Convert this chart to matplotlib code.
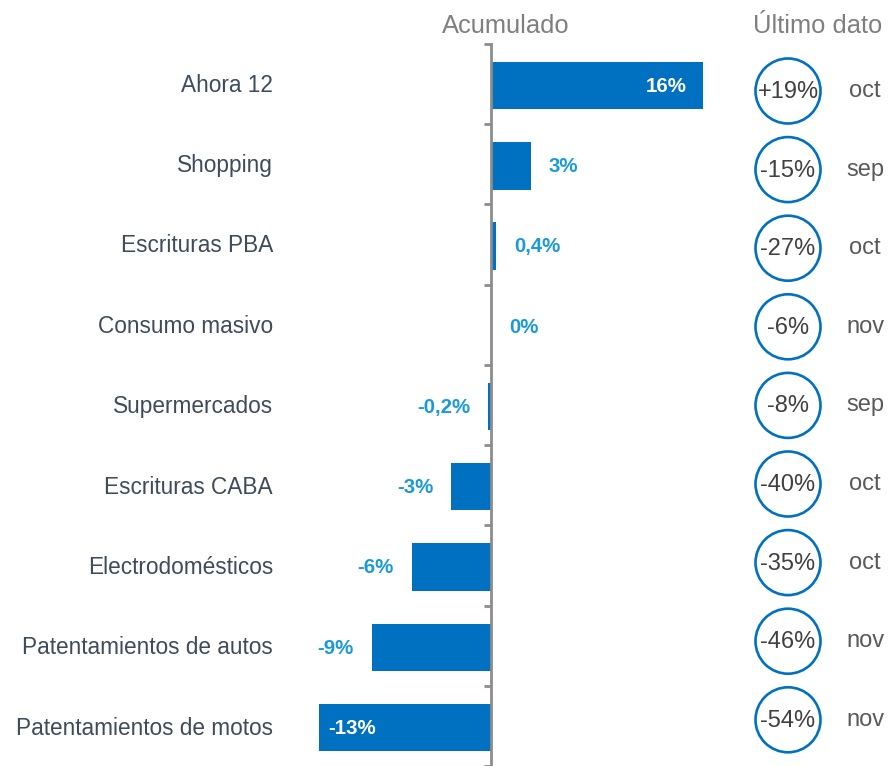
import numpy as np
import matplotlib.pyplot as plt
from matplotlib.patches import Circle

plt.rcParams['font.family'] = ['Liberation Sans', 'DejaVu Sans']

# datos
categorias = ['Ahora 12', 'Shopping', 'Escrituras PBA', 'Consumo masivo', 'Supermercados',
              'Escrituras CABA', 'Electrodomésticos', 'Patentamientos de autos',
              'Patentamientos de motos']
acumulado = [16, 3, 0.4, 0, -0.2, -3, -6, -9, -13]
etiquetas = ['16%', '3%', '0,4%', '0%', '-0,2%', '-3%', '-6%', '-9%', '-13%']
ultimo = ['+19%', '-15%', '-27%', '-6%', '-8%', '-40%', '-35%', '-46%', '-54%']
meses = ['oct', 'sep', 'oct', 'nov', 'sep', 'oct', 'oct', 'nov', 'nov']

W, H = 888, 766
azul = '#0070C0'
celeste = '#1A9AD9'
gris = '#7F7F7F'

fig = plt.figure(figsize=(W / 100, H / 100), dpi=100)

# ejes de barras en coordenadas de pixel
x0_px, esc = 491, 13.25
left_px, right_px = 300, 740
top_px, bot_px = 44, 766
fila = 80.4
ax = fig.add_axes([left_px / W, 1 - bot_px / H, (right_px - left_px) / W, (bot_px - top_px) / H])
ax.set_xlim((left_px - x0_px) / esc, (right_px - x0_px) / esc)
ax.set_ylim(-0.5 + (bot_px - top_px) / fila, -0.5)

y = np.arange(len(categorias))
ax.barh(y + 0.02, acumulado, height=0.59, color=azul)

for s in ['top', 'right', 'bottom']:
    ax.spines[s].set_visible(False)
ax.spines['left'].set_position(('data', 0))
ax.spines['left'].set_color('#8C8C8C')
ax.spines['left'].set_linewidth(2)
ax.set_xticks([])
ax.set_yticks(np.arange(-0.5, len(categorias), 1))
ax.set_yticklabels([])
ax.tick_params(axis='y', direction='out', length=5, width=2, color='#8C8C8C')

for i, (v, t) in enumerate(zip(acumulado, etiquetas)):
    yi = i + 0.03
    if v >= 10:
        ax.annotate(t, (v, yi), xytext=(-12, 0), textcoords='offset points', ha='right',
                    va='center', color='white', fontsize=14.7, fontweight='bold')
    elif v <= -10:
        ax.annotate(t, (v, yi), xytext=(7, 0), textcoords='offset points', ha='left',
                    va='center', color='white', fontsize=14.7, fontweight='bold')
    elif v >= 0:
        ax.annotate(t, (v, yi), xytext=(13, 0), textcoords='offset points', ha='left',
                    va='center', color=celeste, fontsize=14.7, fontweight='bold')
    else:
        ax.annotate(t, (v, yi), xytext=(-13, 0), textcoords='offset points', ha='right',
                    va='center', color=celeste, fontsize=14.7, fontweight='bold')

# capa superior en pixeles para textos y circulos
ov = fig.add_axes([0, 0, 1, 1])
ov.set_xlim(0, W)
ov.set_ylim(H, 0)
ov.axis('off')

ov.text(506, 26, 'Acumulado', ha='center', va='center', color=gris, fontsize=18.4)
ov.text(818, 26, 'Último dato', ha='center', va='center', color=gris, fontsize=18.4)

for i in range(len(categorias)):
    yc = top_px + fila * (i + 0.5)
    ov.text(273, yc + 1, categorias[i], ha='right', va='center', color='#3D4B5C', fontsize=16.3)
    yk = 91 + 78.6 * i
    ov.add_patch(Circle((788, yk), 32.5, fill=False, edgecolor=azul, linewidth=1.9))
    ov.text(788, yk + 1, ultimo[i], ha='center', va='center', color='#404040', fontsize=17)
    ov.text(865, yk, meses[i], ha='center', va='center', color='#595959', fontsize=17)

fig.savefig('out.png', dpi=100)
